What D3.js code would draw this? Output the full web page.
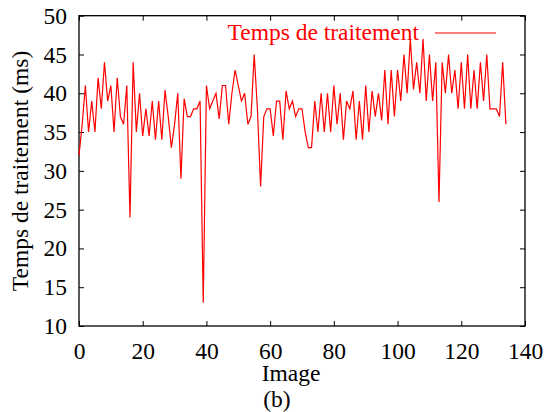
<!DOCTYPE html>
<html>
<head>
<meta charset="utf-8">
<script src="https://cdn.jsdelivr.net/npm/d3@7"></script>
<style>
  body { margin: 0; background: #fff; }
</style>
</head>
<body>
<div id="chart"></div>
<script>
var CHART_WIDTH = 545;
var CHART_HEIGHT = 412;

// temps de traitement par image (ms), une valeur par image 0..134
var tempsTraitement = [
	32, 36, 41, 35, 39, 35, 42, 38, 44, 39,
	41, 35, 42, 37, 36, 41, 24, 44, 35, 40,
	34.5, 38, 34.5, 39, 34, 39, 34, 40.4, 37, 33,
	36, 40, 29, 39.3, 37, 37, 38, 38, 39, 13,
	41, 38, 39, 40, 36.7, 41, 41, 36, 40, 43,
	41, 39, 40, 36, 37, 45, 38, 28, 37, 38,
	38, 34.5, 39, 39, 34, 40.3, 38, 39, 37, 38,
	38, 35, 33, 33, 39, 35, 40, 35, 40, 35,
	41, 36, 40, 34, 39, 38, 40.3, 34, 39, 34,
	41, 35, 40.3, 37, 40, 36.5, 43, 36, 43, 37,
	43, 39, 45, 40, 47, 40.5, 44, 40, 47, 39,
	45, 39, 44, 26, 44, 40, 45, 40, 43, 38,
	44, 38, 45, 38, 43, 38, 44, 39, 45, 38,
	38, 38, 37, 44, 36
];

var xTicks = [0, 20, 40, 60, 80, 100, 120, 140];
var yTicks = [10, 15, 20, 25, 30, 35, 40, 45, 50];
var seriesName = "Temps de traitement";

var SERIF = "Liberation Serif";
var fontSize = "23.5px";

var margin = { top: 15.7, right: 20, bottom: 86, left: 79 };
var plotWidth = 525 - margin.left;
var plotHeight = 326 - margin.top;

var svg = d3.select("#chart")
	.append("svg")
	.attr("width", CHART_WIDTH)
	.attr("height", CHART_HEIGHT)
	.attr("font-family", SERIF);

var inner = svg.append("g")
	.attr("transform", `translate(${margin.left},${margin.top})`);

// scales
var xScale = d3.scaleLinear().domain([0, 140]).range([0, plotWidth]);
var yScale = d3.scaleLinear().domain([10, 50]).range([plotHeight, 0]);

// axes, ticks inward on the four sides (gnuplot style)
var tickLen = 5;

function styleLabels(g) {
	g.attr("font-family", SERIF).attr("font-size", fontSize);
	g.selectAll("text")
		.attr("font-family", SERIF)
		.style("font-family", SERIF)
		.style("font-size", fontSize)
		.attr("fill", "#000");
}

inner.append("g")
	.attr("transform", `translate(0,${plotHeight})`)
	.call(d3.axisBottom(xScale).tickValues(xTicks).tickSizeInner(-tickLen).tickSizeOuter(0).tickPadding(16))
	.call(styleLabels);

inner.append("g")
	.call(d3.axisTop(xScale).tickValues(xTicks).tickSizeInner(-tickLen).tickSizeOuter(0).tickFormat(""));

inner.append("g")
	.call(d3.axisLeft(yScale).tickValues(yTicks).tickSizeInner(-tickLen).tickSizeOuter(0).tickPadding(12))
	.call(styleLabels);

inner.append("g")
	.attr("transform", `translate(${plotWidth},0)`)
	.call(d3.axisRight(yScale).tickValues(yTicks).tickSizeInner(-tickLen).tickSizeOuter(0).tickFormat(""));

inner.selectAll(".domain").remove();
inner.selectAll(".tick line").attr("stroke", "#000").attr("stroke-width", 1);

// frame
inner.append("rect")
	.attr("width", plotWidth)
	.attr("height", plotHeight)
	.attr("fill", "none")
	.attr("stroke", "#000")
	.attr("stroke-width", 1.3);

// line
var line = d3.line()
	.x((d, i) => xScale(i))
	.y(d => yScale(d));

inner.append("path")
	.datum(tempsTraitement)
	.attr("fill", "none")
	.attr("stroke", "#ff0000")
	.attr("stroke-width", 1.2)
	.attr("d", line);

// legend
var legend = svg.append("g")
	.attr("transform", "translate(419, 33)");

legend.append("text")
	.attr("x", 0)
	.attr("y", 0)
	.attr("dy", "0.31em")
	.attr("text-anchor", "end")
	.attr("fill", "#ff0000")
	.style("font-family", SERIF)
	.style("font-size", fontSize)
	.text(seriesName);

legend.append("line")
	.attr("x1", 16)
	.attr("x2", 77)
	.attr("y1", 0)
	.attr("y2", 0)
	.attr("stroke", "#ff0000")
	.attr("stroke-width", 1.2);

// labels
svg.append("text")
	.attr("x", 291)
	.attr("y", 381)
	.attr("text-anchor", "middle")
	.style("font-family", SERIF)
	.style("font-size", fontSize)
	.text("Image");

svg.append("text")
	.attr("x", 277)
	.attr("y", 407)
	.attr("text-anchor", "middle")
	.style("font-family", SERIF)
	.style("font-size", fontSize)
	.text("(b)");

svg.append("text")
	.attr("transform", "rotate(-90)")
	.attr("x", -171)
	.attr("y", 28)
	.attr("text-anchor", "middle")
	.style("font-family", SERIF)
	.style("font-size", fontSize)
	.text("Temps de traitement (ms)");
</script>
</body>
</html>
